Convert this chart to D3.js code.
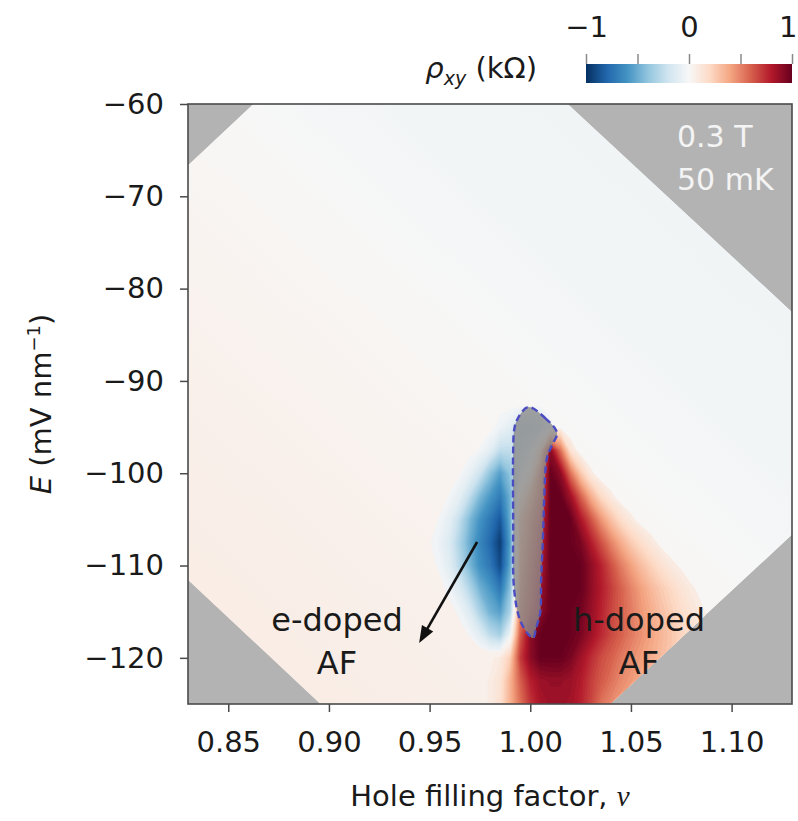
<!DOCTYPE html>
<html>
<head>
<meta charset="utf-8">
<script src="https://cdn.jsdelivr.net/npm/d3@7"></script>
<style>
  html, body { margin: 0; padding: 0; background: #ffffff; }
  svg { display: block; font-family: "DejaVu Sans", "Liberation Sans", Arial, sans-serif; }
</style>
</head>
<body>
<svg id="chart" width="798" height="821"></svg>
<script>
// ---- axes ----
const nuDomain = [0.83, 1.13];
const eDomain = [-60, -125];
const nuTicks = [0.85, 0.90, 0.95, 1.00, 1.05, 1.10];
const eTicks = [-60, -70, -80, -90, -100, -110, -120];

// ---- colour bar ----
const cbTicks = [-1, -0.5, 0, 0.5, 1];
const cbLabels = [-1, 0, 1];
const rdbuColors = ["#053061", "#2166ac", "#4393c3", "#92c5de", "#d1e5f0", "#f7f7f7",
                    "#fddbc7", "#f4a582", "#d6604d", "#b2182b", "#67001f"];

// ---- measured window in (ν, E); outside it the panel is grey ----
const coverage = [[0.83, -66.6], [0.8623, -60], [1.0188, -60], [1.13, -82.5],
                  [1.13, -106.7], [1.0396, -125], [0.8956, -125], [0.83, -111.6]];

// ---- smooth background ρxy (kΩ) versus p = 204ν + E ----
const bgP   = [44, 60, 80, 100, 115, 130, 171];
const bgRho = [0.08, 0.07, 0.05, 0.025, 0.0, -0.025, -0.045];

// ---- ρxy map, in units of 10 Ω (value/100 = kΩ) ----
// columns: ν = 0.945 … 1.100 in steps of 0.005; rows: E = −90 … −127.5 in steps of −2.5
const gridNu0 = 0.945, gridDNu = 0.005;
const gridE0 = -90, gridDE = -2.5;
const rhoRows = [
  [0,0,0,0,0,0,0,0,0,0,0,0,0,0,0,0,0,0,0,0,0,0,0,0,0,0,0,0,0,0,0,0],
  [0,0,0,0,0,0,0,0,0,0,0,0,0,0,0,0,0,0,0,0,0,0,0,0,0,0,0,0,0,0,0,0],
  [0,0,0,0,0,0,0,0,-5,-10,-25,-25,-20,-5,5,0,0,0,0,0,0,0,0,0,0,0,0,0,0,0,0,0],
  [0,0,0,0,0,0,-3,-10,-25,-25,-20,-10,20,90,55,15,3,0,0,0,0,0,0,0,0,0,0,0,0,0,0,0],
  [0,0,0,0,-2,-8,-20,-40,-55,-40,-10,10,50,100,90,55,27,10,2,0,0,0,0,0,0,0,0,0,0,0,0,0],
  [0,0,0,-3,-10,-25,-45,-58,-70,-48,10,35,60,100,100,85,60,37,20,10,3,0,0,0,0,0,0,0,0,0,0,0],
  [0,0,-3,-10,-25,-45,-60,-72,-85,-50,30,50,70,100,100,100,82,64,45,30,18,10,4,1,0,0,0,0,0,0,0,0],
  [0,-2,-6,-15,-32,-50,-66,-78,-95,-55,35,55,75,100,100,100,95,80,65,50,37,26,18,11,5,2,0,0,0,0,0,0],
  [0,0,-4,-12,-28,-46,-62,-72,-90,-52,40,60,80,100,100,100,100,90,78,65,52,41,31,23,16,10,6,2,0,0,0,0],
  [0,0,0,-5,-15,-30,-48,-58,-72,-42,45,65,85,100,100,100,100,90,80,70,60,50,41,33,26,20,14,9,5,2,0,0],
  [0,0,0,0,-4,-15,-32,-48,-55,-32,50,70,90,100,100,100,97,88,78,68,60,52,44,37,30,24,18,13,9,5,3,1],
  [0,0,0,0,0,-3,-12,-26,-33,-5,60,90,100,100,100,100,95,86,76,67,60,53,46,40,34,28,22,17,12,8,5,2],
  [0,0,0,0,3,4,5,6,10,25,70,90,100,100,100,95,85,75,66,60,53,47,42,37,32,27,22,17,12,8,5,2],
  [0,0,0,0,4,5,6,8,14,35,60,78,86,88,88,86,80,70,62,55,48,43,38,33,28,23,18,13,9,6,3,1],
  [0,0,0,0,4,5,6,8,16,35,55,72,82,86,86,84,78,68,55,48,42,37,32,27,22,17,12,8,5,3,2,1],
  [0,0,0,0,4,5,6,8,16,35,55,72,82,86,86,84,78,68,55,48,42,37,32,27,22,17,12,8,5,3,2,1]
];

// ---- insulating region at ν = 1 (grey, dashed outline) ----
const insulating = [
  [0.9989, -92.83], [1.0074, -94.02], [1.0133, -95.64], [1.0108, -96.94], [1.0083, -98.35],
  [1.0069, -102.89], [1.0064, -106.48], [1.0054, -111.57], [1.0049, -115.15], [1.0029, -116.77],
  [1.0014, -117.86], [0.9989, -117.42], [0.9949, -115.90], [0.9920, -112.65], [0.9915, -105.07],
  [0.9915, -97.49], [0.9920, -95.32], [0.9934, -94.24]
];

// ---- annotations ----
const arrowFrom = [0.9736, -107.45];
const arrowTo = [0.9448, -118.40];
const labels = [
  { nu: 0.904, e: -117.1, text: "e-doped" },
  { nu: 0.904, e: -121.75, text: "AF" },
  { nu: 1.054, e: -117.1, text: "h-doped" },
  { nu: 1.054, e: -121.75, text: "AF" }
];
const conditions = ["0.3 T", "50 mK"];

// ================= drawing =================
const FONT = "\"DejaVu Sans\", \"Liberation Sans\", Arial, sans-serif";
const svg = d3.select("#chart");
const x = d3.scaleLinear().domain(nuDomain).range([188, 792]);
const y = d3.scaleLinear().domain(eDomain).range([104, 704]);
const color = d3.scaleLinear()
  .domain(d3.range(11).map(i => -1 + 0.2 * i))
  .range(rdbuColors)
  .clamp(true);

const defs = svg.append("defs");
const toPts = arr => arr.map(d => [x(d[0]), y(d[1])].join(",")).join(" ");

defs.append("clipPath").attr("id", "cov")
  .append("polygon").attr("points", toPts(coverage));

// background gradient running along the direction in which p grows
const dpdx = 204 * (x.invert(1) - x.invert(0));
const dpdy = y.invert(1) - y.invert(0);
const gLen = Math.hypot(dpdx, dpdy);
const ax = x(nuDomain[0]), ay = y(eDomain[1]);
const pA = 204 * nuDomain[0] + eDomain[1];
const L = 900;
const bx = ax + L * dpdx / gLen, by = ay + L * dpdy / gLen;
const bg = defs.append("linearGradient").attr("id", "bg")
  .attr("gradientUnits", "userSpaceOnUse")
  .attr("x1", ax).attr("y1", ay).attr("x2", bx).attr("y2", by);
bgP.forEach((p, i) => {
  bg.append("stop")
    .attr("offset", Math.max(0, Math.min(1, (p - pA) / (gLen * L))))
    .attr("stop-color", color(bgRho[i]));
});

// grey panel outside the measured window
svg.append("rect")
  .attr("x", 188).attr("y", 104).attr("width", 604).attr("height", 600)
  .attr("fill", "#b3b3b3");

const mapG = svg.append("g").attr("clip-path", "url(#cov)");
mapG.append("polygon").attr("points", toPts(coverage)).attr("fill", "url(#bg)");

// filled contour bands of the ρxy map
const nCols = rhoRows[0].length, nRows = rhoRows.length;
const values = rhoRows.flat().map(v => v / 100);
const gridProj = d3.geoTransform({
  point(cx, cy) {
    this.stream.point(x(gridNu0 + (cx - 0.5) * gridDNu), y(gridE0 + (cy - 0.5) * gridDE));
  }
});
const gridPath = d3.geoPath(gridProj);
const posLevels = d3.range(3, 41).map(k => k * 0.025);
const negLevels = d3.range(1, 41).map(k => k * 0.025);

mapG.append("g").selectAll("path")
  .data(d3.contours().size([nCols, nRows]).thresholds(posLevels)(values))
  .join("path")
  .attr("d", gridPath)
  .attr("fill", d => color(Math.min(d.value + 0.0125, 1)));

mapG.append("g").selectAll("path")
  .data(d3.contours().size([nCols, nRows]).thresholds(negLevels)(values.map(v => -v)))
  .join("path")
  .attr("d", gridPath)
  .attr("fill", d => color(-Math.min(d.value + 0.0125, 1)));

// insulating region
const blobLine = d3.line().x(d => x(d[0])).y(d => y(d[1])).curve(d3.curveCatmullRomClosed.alpha(0.5));
mapG.append("path")
  .attr("d", blobLine(insulating))
  .attr("fill", "#8a8a8a").attr("fill-opacity", 0.8)
  .attr("stroke", "#4b4bc2").attr("stroke-width", 2.4)
  .attr("stroke-dasharray", "7 4");

// frame
svg.append("rect")
  .attr("x", 188).attr("y", 104).attr("width", 604).attr("height", 600)
  .attr("fill", "none").attr("stroke", "#4a4a4a").attr("stroke-width", 1.6);

// axes
const styleAxis = g => {
  g.select(".domain").remove();
  g.selectAll(".tick line").attr("stroke", "#4a4a4a").attr("stroke-width", 1.5);
  g.selectAll(".tick text").attr("fill", "#1a1a1a").style("font-size", "29px")
    .style("font-family", FONT);
};
svg.append("g").attr("transform", "translate(0,704)")
  .call(d3.axisBottom(x).tickValues(nuTicks).tickFormat(d3.format(".2f")).tickSize(8).tickPadding(19))
  .call(styleAxis);
svg.append("g").attr("transform", "translate(188,0)")
  .call(d3.axisLeft(y).tickValues(eTicks).tickFormat(d3.format("d")).tickSize(8).tickPadding(16))
  .call(styleAxis);

// axis titles
const xt = svg.append("text").attr("x", 490).attr("y", 806).attr("text-anchor", "middle")
  .style("font-size", "29px").attr("fill", "#1a1a1a");
xt.append("tspan").text("Hole filling factor, ");
xt.append("tspan").text("ν").style("font-style", "italic")
  .style("font-family", "\"Liberation Serif\", \"DejaVu Serif\", serif");

const yt = svg.append("text").attr("transform", "translate(51,404) rotate(-90)")
  .attr("text-anchor", "middle").style("font-size", "29px").attr("fill", "#1a1a1a");
yt.append("tspan").text("E").style("font-style", "italic");
yt.append("tspan").text(" (mV nm");
yt.append("tspan").text("−1").style("font-size", "18px").attr("dy", -11);
yt.append("tspan").text(")").attr("dy", 11);

// in-panel labels
svg.append("g").selectAll("text")
  .data(labels).join("text")
  .attr("x", d => x(d.nu)).attr("y", d => y(d.e))
  .attr("text-anchor", "middle").style("font-size", "32px").attr("fill", "#1a1a1a")
  .text(d => d.text);

svg.append("g").selectAll("text")
  .data(conditions).join("text")
  .attr("x", 677).attr("y", (d, i) => 147 + 43 * i)
  .style("font-size", "30px").attr("fill", "#f4f4f4")
  .text(d => d);

// arrow toward the electron-doped side
{
  const tx = x(arrowFrom[0]), ty = y(arrowFrom[1]);
  const hx = x(arrowTo[0]), hy = y(arrowTo[1]);
  const len = Math.hypot(hx - tx, hy - ty);
  const ux = (hx - tx) / len, uy = (hy - ty) / len;
  const headL = 17, headW = 6.5;
  const bxh = hx - headL * ux, byh = hy - headL * uy;
  svg.append("line")
    .attr("x1", tx).attr("y1", ty).attr("x2", bxh + 3 * ux).attr("y2", byh + 3 * uy)
    .attr("stroke", "#111").attr("stroke-width", 2.6);
  svg.append("polygon")
    .attr("points", [[hx, hy], [bxh - headW * uy, byh + headW * ux], [bxh + headW * uy, byh - headW * ux]]
      .map(p => p.join(",")).join(" "))
    .attr("fill", "#111");
}

// colour bar
const cb = d3.scaleLinear().domain([-1, 1]).range([586, 792]);
const cbGrad = defs.append("linearGradient").attr("id", "cbg")
  .attr("x1", 0).attr("x2", 1).attr("y1", 0).attr("y2", 0);
rdbuColors.forEach((c, i) => cbGrad.append("stop").attr("offset", i / 10).attr("stop-color", c));
svg.append("rect").attr("x", 586).attr("y", 64).attr("width", 206).attr("height", 19)
  .attr("fill", "url(#cbg)");
svg.append("g").attr("transform", "translate(0,64)")
  .call(d3.axisTop(cb).tickValues(cbTicks)
    .tickFormat(d => cbLabels.includes(d) ? d3.format("d")(d) : "")
    .tickSize(10).tickPadding(17))
  .call(g => {
    g.select(".domain").remove();
    g.selectAll(".tick line").attr("stroke", "#8a8a8a").attr("stroke-width", 1.5);
    g.selectAll(".tick text").attr("fill", "#1a1a1a").style("font-size", "29px")
      .style("font-family", FONT);
    // keep the right-most label inside the page
    g.selectAll(".tick text").filter(d => d === 1)
      .attr("text-anchor", "end").attr("dx", 5);
  });

const cbt = svg.append("text").attr("x", 537).attr("y", 78).attr("text-anchor", "end")
  .style("font-size", "29px").attr("fill", "#1a1a1a");
cbt.append("tspan").text("ρ").style("font-style", "italic");
cbt.append("tspan").text("xy").style("font-style", "italic").style("font-size", "19px").attr("dy", 7);
cbt.append("tspan").text(" (kΩ)").attr("dy", -7);
</script>
</body>
</html>
